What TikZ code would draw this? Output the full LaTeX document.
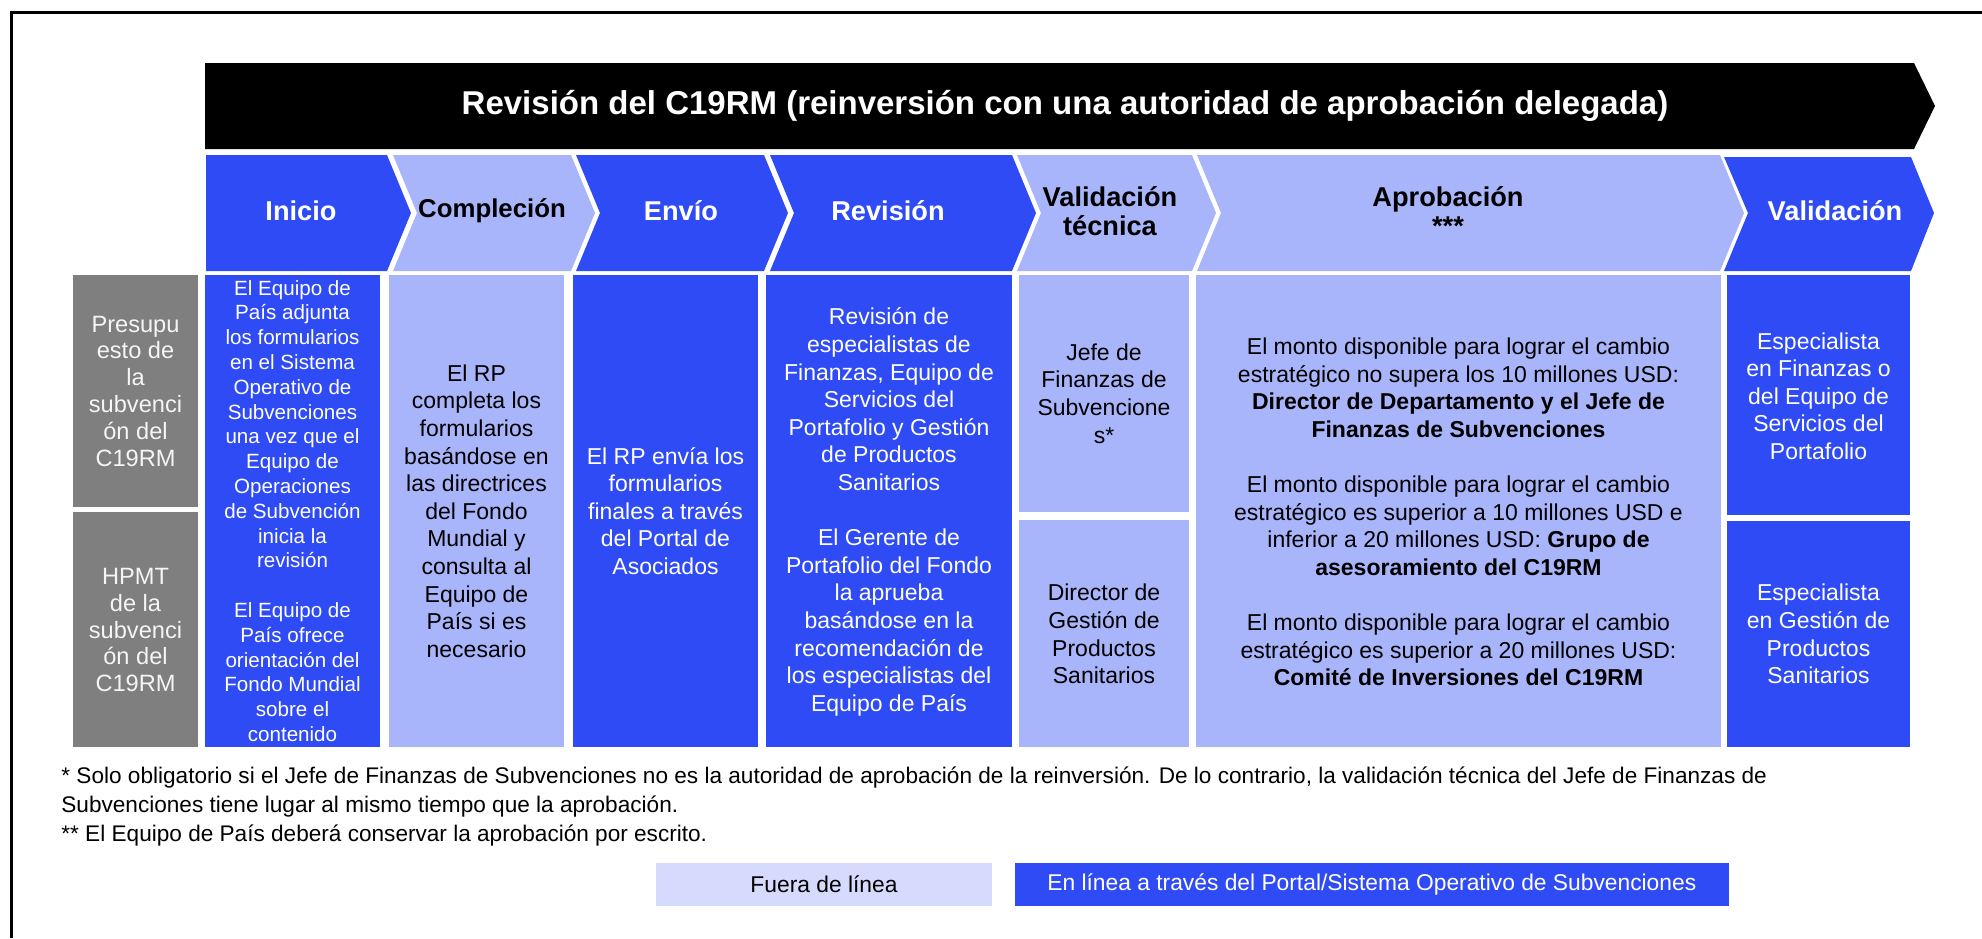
\documentclass[tikz,border=0pt]{standalone}
\usepackage{fontspec}
\setmainfont{Liberation Sans}
\usetikzlibrary{positioning}
\definecolor{RoyalBlue}{RGB}{47,75,246}
\definecolor{PaleBlue}{RGB}{169,181,250}
\definecolor{PalerBlue}{RGB}{214,219,253}
\definecolor{MidGray}{RGB}{127,127,127}
\definecolor{LabelWhite}{RGB}{245,245,245}

\begin{document}
\begin{tikzpicture}[
        x=0.5pt, y=-0.5pt,
        title/.style={text=white, font=\bfseries\fontsize{16.5}{18}\selectfont},
        head/.style={font=\bfseries\fontsize{13.6}{14.5}\selectfont, align=center},
        cell/.style={font=\fontsize{11.5}{13.8}\selectfont, align=center},
        side/.style={text=LabelWhite, font=\fontsize{11.8}{13.4}\selectfont, align=center},
        note/.style={anchor=base west, inner sep=0pt, font=\fontsize{11.3}{13}\selectfont},
        legend/.style={minimum height=21.5pt, inner sep=0pt, font=\fontsize{11.4}{13}\selectfont}
    ]
        \useasboundingbox (0,0) rectangle (1982,938);
        % frame
        \draw[line width=1.5pt] (11,938) -- (11,12) -- (1982,12);

        % banner
        \fill (205,63) -- (1914,63) -- (1935,106) -- (1914,149) -- (205,149) -- cycle;
        \node[title] (banner) at (1065,106) {Revisión del C19RM (reinversión con una autoridad de aprobación delegada)};

        % step chevrons
        \fill[RoyalBlue] (206,155) -- (387,155) -- (411,213) -- (387,271) -- (206,271) -- cycle;
        \fill[PaleBlue] (393,155) -- (571,155) -- (595,213) -- (571,271) -- (393,271) -- (417,213) -- cycle;
        \fill[RoyalBlue] (576,155) -- (764,155) -- (788,213) -- (764,271) -- (576,271) -- (600,213) -- cycle;
        \fill[RoyalBlue] (770,155) -- (1012,155) -- (1036,213) -- (1012,271) -- (770,271) -- (794,213) -- cycle;
        \fill[PaleBlue] (1017,155) -- (1192,155) -- (1216,213) -- (1192,271) -- (1017,271) -- (1041,213) -- cycle;
        \fill[PaleBlue] (1197,155) -- (1720,155) -- (1744,213) -- (1720,271) -- (1197,271) -- (1221,213) -- cycle;
        \fill[RoyalBlue] (1724,157) -- (1911,157) -- (1934,213) -- (1911,271) -- (1724,271) -- (1748,213) -- cycle;

        \node[head, text=white] (hInicio) at (301,211) {Inicio};
        \node[head, font=\bfseries\fontsize{12.9}{14.5}\selectfont] (hComp) at (492,211) {Compleción};
        \node[head, text=white] (hEnvio) at (681,211) {Envío};
        \node[head, text=white] (hRev) at (888,211) {Revisión};
        \node[head] (hTec) at (1110,211) {Validación\\técnica};
        \node[head] (hAprob) at (1448,211) {Aprobación\\***};
        \node[head, text=white] (hVal) at (1835,211) {Validación};

        % row labels
        \fill[MidGray] (73,275) rectangle (198,507);
        \fill[MidGray] (73,512) rectangle (198,747);
        \node[side] (presup) at (135.5,391) {Presupu\\esto de\\la\\subvenci\\ón del\\C19RM};
        \node[side] (hpmt) at (135.5,630) {HPMT\\de la\\subvenci\\ón del\\C19RM};

        % body cells
        \fill[RoyalBlue] (205,275) rectangle (380,747);
        \fill[PaleBlue] (389,275) rectangle (564,747);
        \fill[RoyalBlue] (573,275) rectangle (758,747);
        \fill[RoyalBlue] (766,275) rectangle (1012,747);
        \fill[PaleBlue] (1019,275) rectangle (1189,512);
        \fill[PaleBlue] (1019,520) rectangle (1189,747);
        \fill[PaleBlue] (1196,275) rectangle (1721,747);
        \fill[RoyalBlue] (1727,275) rectangle (1910,515);
        \fill[RoyalBlue] (1727,521) rectangle (1910,747);

        \node[cell, text=white, font=\fontsize{10.3}{12.4}\selectfont] (tInicio) at (292.5,511) {El Equipo de\\País adjunta\\los formularios\\en el Sistema\\Operativo de\\Subvenciones\\una vez que el\\Equipo de\\Operaciones\\de Subvención\\inicia la\\revisión\\[12.4pt]El Equipo de\\País ofrece\\orientación del\\Fondo Mundial\\sobre el\\contenido};
        \node[cell] (tComp) at (476.5,511) {El RP\\completa los\\formularios\\basándose en\\las directrices\\del Fondo\\Mundial y\\consulta al\\Equipo de\\País si es\\necesario};
        \node[cell, text=white] (tEnvio) at (665.5,511) {El RP envía los\\formularios\\finales a través\\del Portal de\\Asociados};
        \node[cell, text=white] (tRev) at (889,512) {Revisión de\\especialistas de\\Finanzas, Equipo de\\Servicios del\\Portafolio y Gestión\\de Productos\\Sanitarios\\[13.8pt]El Gerente de\\Portafolio del Fondo\\la aprueba\\basándose en la\\recomendación de\\los especialistas del\\Equipo de País};
        \node[cell] (tJefe) at (1104,393.5) {Jefe de\\Finanzas de\\Subvencione\\s*};
        \node[cell] (tDir) at (1104,634) {Director de\\Gestión de\\Productos\\Sanitarios};
        \node[cell] (tAprob) at (1458.5,512) {El monto disponible para lograr el cambio\\estratégico no supera los 10 millones USD:\\\textbf{Director de Departamento y el Jefe de}\\\textbf{Finanzas de Subvenciones}\\[13.8pt]El monto disponible para lograr el cambio\\estratégico es superior a 10 millones USD e\\inferior a 20 millones USD: \textbf{Grupo de}\\\textbf{asesoramiento del C19RM}\\[13.8pt]El monto disponible para lograr el cambio\\estratégico es superior a 20 millones USD:\\\textbf{Comité de Inversiones del C19RM}};
        \node[cell, text=white] (tFin) at (1818.5,396) {Especialista\\en Finanzas o\\del Equipo de\\Servicios del\\Portafolio};
        \node[cell, text=white] (tGest) at (1818.5,634) {Especialista\\en Gestión de\\Productos\\Sanitarios};

        % footnotes
        \node[note] (fn1) at (61,783) {* Solo obligatorio si el Jefe de Finanzas de Subvenciones no es la autoridad de aprobación de la reinversión. De lo contrario, la validación técnica del Jefe de Finanzas de};
        \node[note] (fn2) at (61,812) {Subvenciones tiene lugar al mismo tiempo que la aprobación.};
        \node[note] (fn3) at (61,841) {** El Equipo de País deberá conservar la aprobación por escrito.};

        % legend
        \node[legend, fill=PalerBlue, minimum width=168pt] (offline) at (824,884) {Fuera de línea};
        \node[legend, fill=RoyalBlue, text=white, minimum width=357pt, right=11pt of offline] (online) {En línea a través del Portal/Sistema Operativo de Subvenciones};
    \end{tikzpicture}
\end{document}
